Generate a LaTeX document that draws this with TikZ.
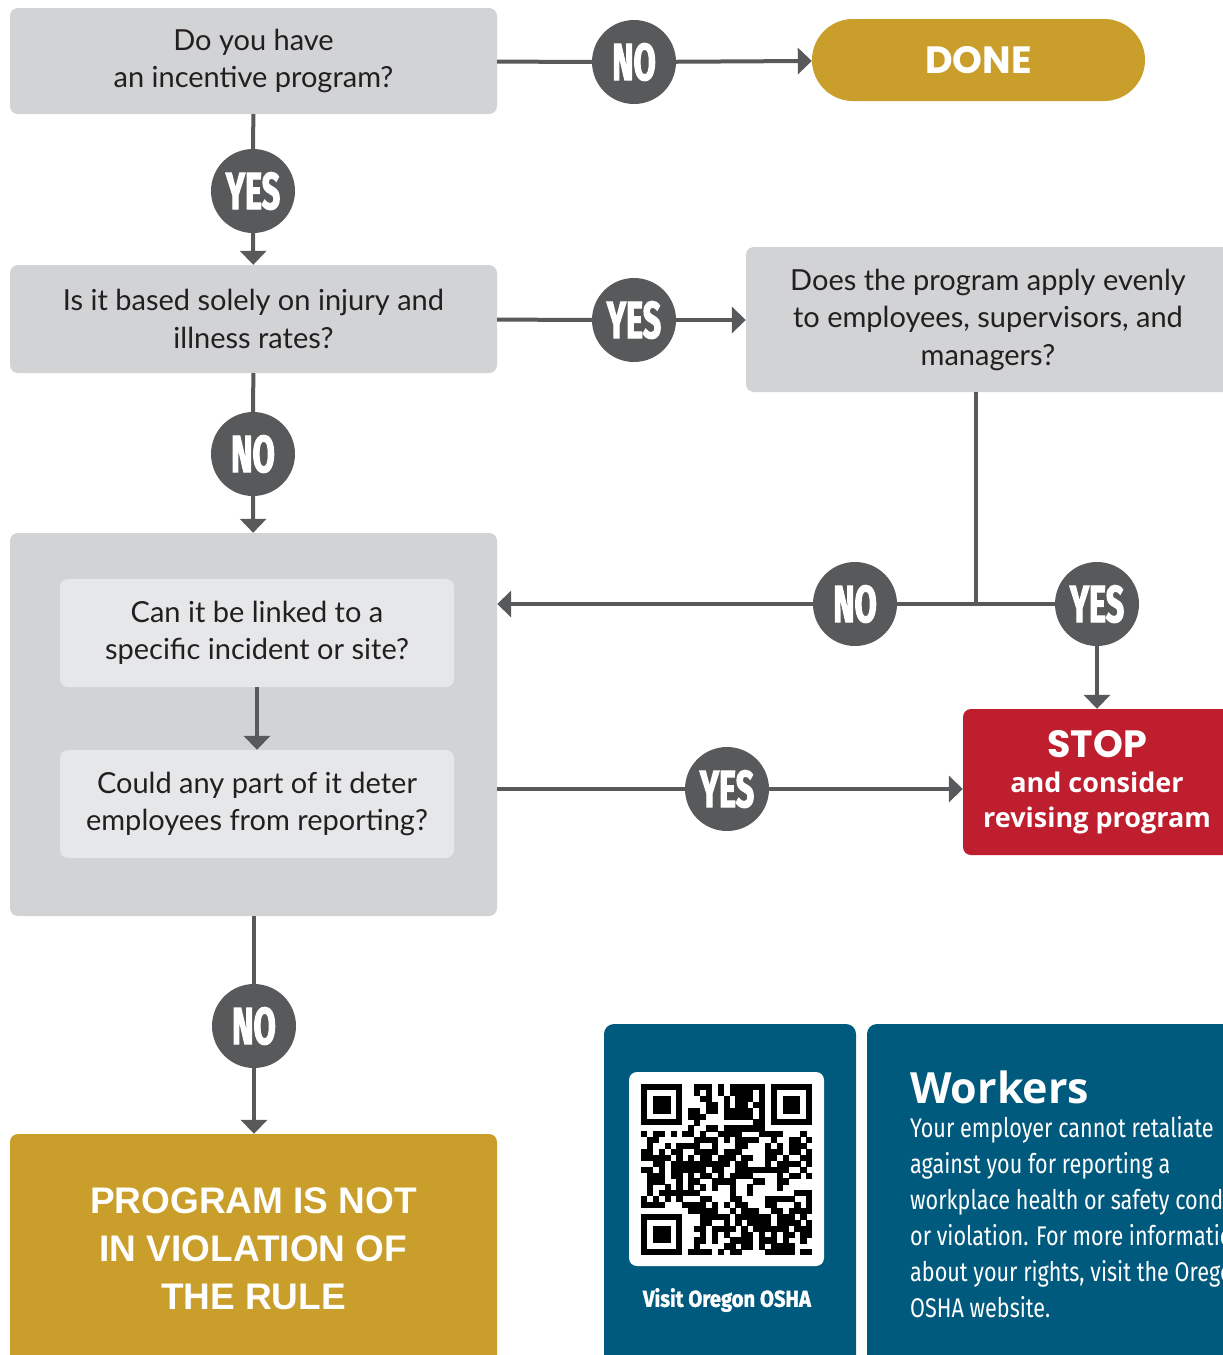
\documentclass[tikz,border=0pt]{standalone}
\usepackage{fontspec}
\usepackage{graphicx}
\usetikzlibrary{arrows.meta}
\setmainfont{Lato}
\newfontfamily\circfont[FakeStretch=0.62, BoldFeatures={FakeBold=2}]{Fira Sans}
\newfontfamily\visitfont[FakeStretch=0.88, BoldFeatures={FakeBold=1.5}]{Fira Sans}
\newfontfamily\condfont[FakeStretch=0.8]{Fira Sans}
\newfontfamily\popfont{Poppins}
\newfontfamily\arialfont{Liberation Sans}
\newfontfamily\opfont{Open Sans}
\definecolor{lgray}{HTML}{D1D3D4}
\definecolor{xgray}{HTML}{E6E7E8}
\definecolor{dgray}{HTML}{58595B}
\definecolor{gold}{HTML}{C99E2A}
\definecolor{stopred}{HTML}{BE1E2D}
\definecolor{oblue}{HTML}{005A7E}
\definecolor{ink}{HTML}{231F20}
\tikzset{
  qbox/.style={fill=lgray, rounded corners=8pt, text=ink, align=center, inner sep=0pt,
    font=\fontsize{29}{37.5}\selectfont},
  ibox/.style={qbox, fill=xgray},
  circ/.style={circle, fill=dgray, minimum size=84pt, inner sep=0pt, text=white,
    font=\circfont\bfseries\fontsize{52}{52}\selectfont},
  ln/.style={draw=dgray, line width=4pt},
  ar/.style={ln, -{Triangle[length=14pt,width=26pt]}},
  panel/.style={fill=oblue, rounded corners=10pt, inner sep=0pt},
}
\begin{document}
\begin{tikzpicture}[x=1pt,y=-1pt]
\useasboundingbox (0,0) rectangle (1223,1355);
\clip (0,0) rectangle (1223,1355);
\fill[white] (0,0) rectangle (1223,1355);

% boxes
\node[qbox, minimum width=487pt, minimum height=106pt] (q1) at (253.5,61) {Do you have\\an incentive program?};
\node[fill=gold, rounded corners=41pt, minimum width=333pt, minimum height=82pt, inner sep=0pt,
  text=white, font=\popfont\bfseries\fontsize{38}{38}\selectfont] (done) at (978.5,60) {DONE};
\node[qbox, minimum width=487pt, minimum height=108pt] (q2) at (253.5,319) {Is it based solely on injury and\\illness rates?};
\node[qbox, minimum width=484pt, minimum height=145pt] (q3) at (988,319.5) {Does the program apply evenly\\to employees, supervisors, and\\managers?};
\node[qbox, minimum width=487pt, minimum height=383pt] (big) at (253.5,724.5) {};
\node[ibox, minimum width=394pt, minimum height=108pt] (ia) at (257,633) {Can it be linked to a\\specific incident or site?};
\node[ibox, minimum width=394pt, minimum height=108pt] (ib) at (257,804) {Could any part of it deter\\employees from reporting?};
\node[fill=stopred, rounded corners=8pt, minimum width=268pt, minimum height=146pt, inner sep=0pt,
  text=white, align=center, font=\opfont\bfseries\fontsize{27}{35}\selectfont] (stop) at (1097,782)
  {{\popfont\fontsize{38}{35}\selectfont STOP}\\
   and consider\\
   revising program};
\node[fill=gold, rounded corners=8pt, minimum width=487pt, minimum height=230pt, inner sep=0pt,
  text=white, align=center, font=\arialfont\bfseries\fontsize{37}{48}\selectfont] (fin) at (253.5,1249)
  {PROGRAM IS NOT\\IN VIOLATION OF\\THE RULE};

% circles
\node[circ] (c1) at (634,62) {NO};
\node[circ] (c2) at (253,191) {YES};
\node[circ] (c3) at (634,320) {YES};
\node[circ] (c4) at (253,454) {NO};
\node[circ] (c5) at (855,604) {NO};
\node[circ] (c6) at (1097,604) {YES};
\node[circ] (c7) at (727,789) {YES};
\node[circ] (c8) at (254,1026) {NO};
\coordinate (j) at (976,604);

% connectors
\draw[ln] (q1) -- (c1);
\draw[ar] (c1) -- (done);
\draw[ln] (q1) -- (c2);
\draw[ar] (c2) -- (q2);
\draw[ln] (q2) -- (c3);
\draw[ar] (c3) -- (c3 -| q3.west);
\draw[ln] (q2) -- (c4);
\draw[ar] (c4) -- (big);
\draw[ar] (ia) -- (ib);
\draw[ln] (q3.south -| j) -- (j);
\draw[ln] (c6) -- (c5);
\draw[ar] (c5) -- (c5 -| big.east);
\draw[ar] (c6) -- (stop);
\draw[ln] (big.east |- c7) -- (c7);
\draw[ar] (c7) -- (c7 -| stop.west);
\draw[ln] (big.south -| c8) -- (c8);
\draw[ar] (c8) -- (c8 |- fin.north);

% bottom panels
\node[panel, minimum width=252pt, minimum height=356pt] (p1) at (730,1202) {};
\node[panel, minimum width=373pt, minimum height=356pt] (p2) at (1053.5,1202) {};
\node[fill=white, rounded corners=8pt, minimum width=195pt, minimum height=194pt, inner sep=0pt] (qr) at (726.5,1169) {};
\begin{scope}[shift={(641,1084)}]
  \def\m{5.9}
  \pgfmathsetseed{11}
  \foreach \i in {0,...,28}{
    \foreach \k in {0,...,28}{
      \pgfmathtruncatemacro\inf{or(or(and(\i<8,\k<8),and(\i>20,\k<8)),and(\i<8,\k>20))}
      \pgfmathtruncatemacro\bl{rnd<0.55}
      \ifnum\inf=0 \ifnum\bl=1
        \fill[black] (\i*\m,\k*\m) rectangle ++(\m+0.3,\m+0.3);
      \fi\fi
    }
  }
  \foreach \ox/\oy in {0/0,22/0,0/22}{
    \fill[black] (\ox*\m,\oy*\m) rectangle ++(7*\m,7*\m);
    \fill[white] (\ox*\m+\m,\oy*\m+\m) rectangle ++(5*\m,5*\m);
    \fill[black] (\ox*\m+2*\m,\oy*\m+2*\m) rectangle ++(3*\m,3*\m);
  }
\end{scope}
\node[text=white, font=\visitfont\bfseries\fontsize{23}{23}\selectfont] (visit) at (727,1300) {Visit Oregon OSHA};
\node[anchor=base west, inner sep=0pt, text=white, font=\opfont\bfseries\fontsize{43}{43}\selectfont] (wk) at (910,1103) {Workers};
\node[anchor=north west, inner sep=0pt, text=white, align=left, font=\condfont\fontsize{27}{36}\selectfont] (body) at (910,1116)
  {Your employer cannot retaliate\\against you for reporting a\\workplace health or safety condition\\or violation. For more information\\about your rights, visit the Oregon\\OSHA website.};
\end{tikzpicture}
\end{document}
